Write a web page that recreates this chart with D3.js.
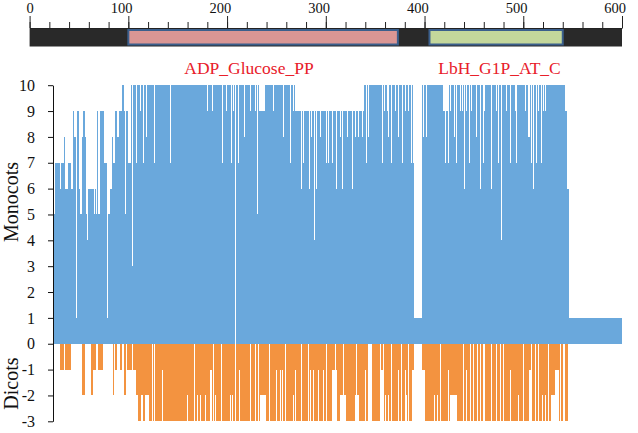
<!DOCTYPE html>
<html>
<head>
<meta charset="utf-8">
<script src="https://cdn.jsdelivr.net/npm/d3@7"></script>
<style>
  html, body { margin: 0; padding: 0; background: #fff; }
  svg { display: block; }
  text { font-family: "Times New Roman", "Liberation Serif", serif; }
</style>
</head>
<body>
<svg id="chart" width="638" height="433"></svg>
<script>
// ---- Data (one value per residue column) ----
const monocots = [
5,5,7,7,7,7,7,6,7,7,
7,8,6,6,6,7,7,7,6,6,
9,8,8,1,9,9,6,5,5,8,
9,9,8,5,4,6,6,6,6,6,
6,5,6,5,9,5,5,9,9,9,
9,7,7,7,1,5,5,6,6,8,
7,7,9,9,8,8,9,9,9,10,
10,9,5,9,9,7,7,7,10,3,
10,10,10,7,10,10,10,9,10,10,
7,10,10,8,10,10,10,10,10,10,
10,7,10,10,10,10,10,10,10,10,
10,10,10,10,10,10,10,7,10,10,
10,10,10,10,10,10,10,10,10,10,
10,10,10,10,10,10,10,10,10,10,
10,10,10,10,10,10,10,10,10,10,
10,10,10,10,9,10,10,10,10,9,
10,10,10,10,10,10,10,10,10,7,
10,10,10,9,10,10,10,10,7,10,
9,10,0,10,10,7,10,10,10,10,
10,8,10,10,10,10,10,9,10,10,
10,10,9,10,5,10,9,9,9,9,
9,9,10,10,10,10,10,10,10,10,
9,10,10,10,10,10,10,10,10,10,
8,10,10,10,10,10,10,7,10,10,
9,10,9,9,9,9,9,9,6,9,
7,9,9,9,9,9,6,9,8,9,
9,4,9,6,9,9,9,8,9,9,
9,9,9,7,9,7,9,9,9,7,
9,9,9,6,9,9,9,8,9,6,
9,9,9,9,8,9,9,9,9,6,
9,9,8,9,9,8,9,9,9,8,
9,10,10,7,10,8,10,10,10,10,
10,10,10,10,10,10,10,10,10,7,
10,9,10,10,9,8,10,10,7,10,
10,10,9,10,10,8,10,10,10,7,
10,10,9,10,10,9,10,10,7,10,
7,1,1,1,1,1,1,1,1,10,
8,10,10,8,10,10,10,10,10,10,
10,10,10,10,10,10,10,10,10,10,
9,9,7,9,9,7,10,9,10,10,
10,8,10,7,10,10,10,9,10,9,
10,6,10,9,10,10,7,10,9,10,
10,10,10,8,10,10,10,6,10,10,
7,9,10,10,10,10,10,10,6,10,
10,10,10,9,10,7,10,10,4,10,
10,10,10,9,10,10,10,7,10,10,
10,10,9,7,10,10,10,10,10,10,
10,10,9,10,10,8,8,10,7,10,
6,10,10,7,10,9,10,10,7,10,
9,10,9,10,10,10,10,10,10,10,
10,10,10,10,10,10,10,10,10,10,
10,10,9,9,6,6,1,1,1,1,
1,1,1,1,1,1,1,1,1,1,
1,1,1,1,1,1,1,1,1,1,
1,1,1,1,1,1,1,1,1,1,
1,1,1,1,1,1,1,1,1,1,
1,1,1,1,1,1,1,1,1
];

const dicots = [
0,0,0,0,0,0,0,-1,-1,-1,
-1,0,-1,-1,-1,-1,-1,-1,0,0,
0,0,0,0,0,0,0,0,0,-2,
-2,-2,0,0,0,0,0,0,-2,-2,
-1,-1,-1,0,0,-1,-1,-1,-1,-1,
0,0,0,0,0,0,0,0,0,0,
-2,0,-1,-1,0,0,0,-1,-1,0,
0,-2,-2,0,-1,-1,-1,-1,-1,0,
-1,-1,-1,-2,-2,-3,-3,-3,-2,-2,
-3,-3,-2,-2,-2,-2,-3,-3,-3,0,
-3,0,-3,-3,-3,-3,-3,-3,-3,-1,
-3,-3,-3,-3,-3,-3,-3,-3,-3,-3,
-3,-3,-3,-3,-3,-3,-3,-3,-3,-3,
-3,-3,-3,-3,-2,-3,-3,-3,-3,-3,
-3,0,-3,-3,-2,-3,-3,-2,-3,-3,
-3,-3,-2,-3,-3,-3,-3,-1,-1,-3,
0,-3,-2,-3,-3,-3,-3,-3,0,-3,
-3,-3,-3,-3,-3,-3,-3,-2,-3,-2,
-3,-3,0,-3,-3,-3,-1,-3,-3,-3,
-3,-3,-3,-3,-3,-3,-3,0,-3,-3,
-3,-3,0,-3,-3,0,-3,-2,-2,-2,
-2,-2,-2,-3,-3,-3,0,-3,-3,-3,
-3,-3,-3,-1,-3,-3,-3,-1,-3,-1,
-3,-3,0,-3,-3,-3,-3,-3,-3,-3,
-2,-3,-1,-3,-3,-3,-3,-3,0,-3,
-3,-3,-3,-3,-3,0,-3,-1,-3,-3,
-1,-3,-3,-3,-3,-1,-3,-3,-3,-3,
-1,-3,-3,0,-3,-3,-3,-3,-3,-1,
-1,-1,0,-1,-3,-3,-3,-2,-2,-2,
0,-2,-2,-3,-3,-3,-3,-3,-3,-3,
-3,-3,-2,0,-2,-2,-3,-3,-3,-3,
-3,-3,-1,-3,-3,0,0,0,0,-3,
-3,-3,-3,-3,-3,-3,-3,0,-1,-1,
0,-3,-2,-3,-3,-2,-3,-3,0,-3,
-3,-3,-3,-3,-3,-1,-3,-3,0,-3,
-3,-3,-1,-2,-3,0,-3,-3,-3,-1,
-1,0,0,0,0,0,0,0,0,-1,
-1,-1,-3,-3,-3,-3,-3,-3,-3,-3,
-3,-2,-3,-3,-2,-3,-3,0,-3,-3,
-3,-3,-3,-3,-3,-1,-3,-2,-2,-2,
-2,-2,-2,-2,-3,-3,-3,-3,-3,-3,
0,-3,-3,-1,-3,-3,-3,0,-3,-3,
0,-3,-3,-3,0,-3,-3,0,-3,-3,
0,0,-3,-3,-3,-3,-3,-3,0,-3,
-3,-3,-3,0,-3,-3,-3,0,-3,-3,
0,-3,-3,-3,-3,-3,-3,-1,-3,-3,
-3,-3,-3,-3,-3,-2,-3,-3,-3,-3,
0,-3,-3,-3,-3,-3,-1,-1,0,-3,
-3,-3,0,-3,-3,0,-3,-3,-3,-2,
-3,-3,-2,-3,-3,0,-3,-3,-2,-2,
-2,-2,-1,-1,-1,-1,-3,0,-3,-3,
0,0,-3,-3,-3,0,0,0,0,0,
0,0,0,0,0,0,0,0,0,0,
0,0,0,0,0,0,0,0,0,0,
0,0,0,0,0,0,0,0,0,0,
0,0,0,0,0,0,0,0,0,0,
0,0,0,0,0,0,0,0,0
];

const yTicks = [-3,-2,-1,0,1,2,3,4,5,6,7,8,9,10];
const rulerMajor = [0,100,200,300,400,500,600];
const rulerMinor = d3.range(0, 601, 20);
const domainNames = ["ADP_Glucose_PP", "LbH_G1P_AT_C"];
const domainStart = [100, 405];
const domainEnd = [373, 540];
const domainFill = ["#da9694", "#c4d79b"];

// ---- Layout ----
const svg = d3.select("#chart");
const positions = d3.range(monocots.length);

const x = d3.scaleBand().domain(positions).range([53, 622]).padding(0);
const y = d3.scaleLinear().domain([-3, 10]).range([421.3, 85.2]);

// ---- Ruler (top) ----
const rx = d3.scaleLinear().domain([0, 600]).range([29.6, 622]);
const barTop = 28, barBot = 46.5;
const dom = domainNames.map((n, i) => ({name: n, start: domainStart[i], end: domainEnd[i], fill: domainFill[i]}));

svg.append("rect")
  .attr("x", rx(0)).attr("y", barTop)
  .attr("width", rx(600) - rx(0)).attr("height", barBot - barTop)
  .attr("fill", "#292929");

svg.selectAll("rect.dom").data(dom).join("rect")
  .attr("class", "dom")
  .attr("x", d => rx(d.start)).attr("y", barTop + 2)
  .attr("width", d => rx(d.end) - rx(d.start)).attr("height", barBot - barTop - 4)
  .attr("fill", d => d.fill)
  .attr("stroke", "#3b5f8c").attr("stroke-width", 2);

const minorAxis = d3.axisTop(rx).tickValues(rulerMinor).tickSize(6).tickFormat("").tickSizeOuter(0);
const gMinor = svg.append("g").attr("transform", `translate(0,${barTop})`).call(minorAxis);
gMinor.select(".domain").attr("stroke", "#222").attr("stroke-width", 1);
gMinor.selectAll(".tick line").attr("stroke", "#222");

const majorAxis = d3.axisTop(rx).tickValues(rulerMajor).tickSize(12).tickPadding(3).tickFormat(d => String(d)).tickSizeOuter(0);
const gMajor = svg.append("g").attr("transform", `translate(0,${barTop})`).call(majorAxis);
gMajor.select(".domain").remove();
gMajor.selectAll(".tick line").attr("stroke", "#222");
gMajor.selectAll(".tick text")
  .attr("font-family", "'Times New Roman', 'Liberation Serif', serif")
  .attr("font-size", 14.5).attr("fill", "#111")
  .attr("text-anchor", "end").attr("dx", 3.6);

// ---- Domain labels ----
svg.selectAll("text.domlab").data(dom).join("text")
  .attr("class", "domlab")
  .attr("x", d => d.name === "ADP_Glucose_PP" ? 249 : 499.5)
  .attr("y", 74)
  .attr("text-anchor", "middle")
  .attr("font-size", 17.5)
  .attr("fill", "#e8202a")
  .text(d => d.name);

// ---- Bars ----
const gBars = svg.append("g").attr("shape-rendering", "crispEdges");
gBars.selectAll("rect.mono").data(positions.filter(i => monocots[i] > 0)).join("rect")
  .attr("class", "mono")
  .attr("x", i => x(i)).attr("width", x.bandwidth())
  .attr("y", i => y(monocots[i])).attr("height", i => y(0) - y(monocots[i]))
  .attr("fill", "#6aa8dc");

gBars.selectAll("rect.dico").data(positions.filter(i => dicots[i] < 0)).join("rect")
  .attr("class", "dico")
  .attr("x", i => x(i)).attr("width", x.bandwidth())
  .attr("y", y(0)).attr("height", i => y(dicots[i]) - y(0))
  .attr("fill", "#f39340");

// ---- Y axis ----
const yAxis = d3.axisLeft(y).tickValues(yTicks).tickSize(5).tickPadding(13)
  .tickFormat(d => String(d)).tickSizeOuter(0);
const gy = svg.append("g").attr("transform", "translate(53,0)").call(yAxis);
gy.select(".domain").attr("stroke", "#111");
gy.selectAll(".tick line").attr("stroke", "#111");
gy.selectAll(".tick text")
  .attr("font-family", "'Times New Roman', 'Liberation Serif', serif")
  .attr("font-size", 16).attr("fill", "#111");

// ---- Axis titles ----
svg.append("text")
  .attr("transform", "translate(18,202) rotate(-90)")
  .attr("text-anchor", "middle").attr("font-size", 20).attr("fill", "#111")
  .text("Monocots");
svg.append("text")
  .attr("transform", `translate(18,${(y(0) + y(-3)) / 2 + 1}) rotate(-90)`)
  .attr("text-anchor", "middle").attr("font-size", 20).attr("fill", "#111")
  .text("Dicots");
</script>
</body>
</html>
